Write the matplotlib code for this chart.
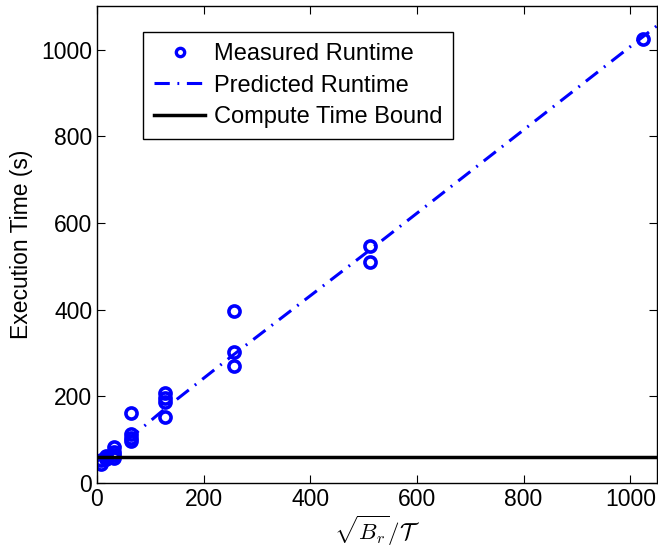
import matplotlib
matplotlib.use("Agg")
import matplotlib.pyplot as plt

# measured runtimes, grouped by sqrt(B_r)/T
meas_x = [8, 8, 16, 16, 16, 32, 32, 32, 32,
          64, 64, 64, 64, 128, 128, 128, 128,
          256, 256, 256, 512, 512, 1024]
meas_y = [45, 52, 55, 60, 63, 58, 65, 72, 82,
          162, 112, 105, 97, 207, 197, 187, 153,
          397, 303, 270, 546, 509, 1024]

# predicted runtime curve
pred_x = [8, 16, 32, 64, 128, 256, 512, 1024, 1050]
pred_y = [52, 60, 76, 106, 172, 296, 538, 1030, 1055]

# compute time bound
bound_x = [0, 1050]
bound_y = [60, 60]

plt.rcParams["font.family"] = ["Liberation Sans", "DejaVu Sans"]
plt.rcParams["mathtext.fontset"] = "cm"

fig = plt.figure(figsize=(6.58, 5.55), dpi=100)
ax = fig.add_axes([0.1474, 0.1297, 0.851, 0.859])

ax.plot(meas_x, meas_y, "o", ms=8, mfc="none", mec="#0000ff", mew=2.6,
        label="Measured Runtime")
ax.plot(pred_x, pred_y, color="#0000ff", lw=2.2, ls=(0, (5, 2.5, 0.6, 2.5)),
        label="Predicted Runtime")
ax.plot(bound_x, bound_y, color="black", lw=2.5, label="Compute Time Bound")

ax.set_xlim(0, 1050)
ax.set_ylim(0, 1100)
ax.set_xticks([0, 200, 400, 600, 800, 1000])
ax.set_yticks([0, 200, 400, 600, 800, 1000])
ax.tick_params(direction="in", top=True, right=True, labelsize=16.5, length=6, width=0.8)
for s in ax.spines.values():
    s.set_linewidth(1.0)

ax.set_xlabel(r"$\sqrt{B_r}/\mathcal{T}$", fontsize=16.5, labelpad=2)
ax.set_ylabel("Execution Time (s)", fontsize=16.5, labelpad=6)

leg = ax.legend(loc="upper left", bbox_to_anchor=(0.082, 0.945), fontsize=17,
                frameon=True, fancybox=False, edgecolor="black", framealpha=1,
                borderaxespad=0, handlelength=2.2, handletextpad=0.35,
                borderpad=0.45, labelspacing=0.4)
leg.get_frame().set_linewidth(1.0)
leg.legend_handles[0].set_markersize(6)
leg.legend_handles[0].set_markeredgewidth(2.4)

fig.savefig("out.png", dpi=100)
